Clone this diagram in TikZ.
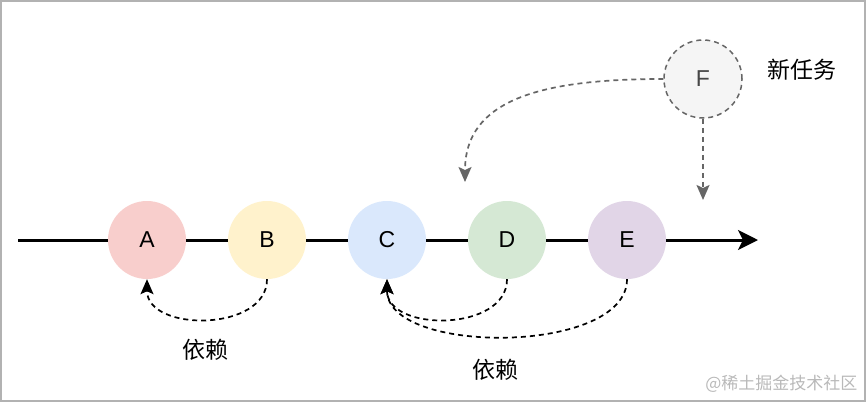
\documentclass[tikz,border=0pt]{standalone}
\usepackage{fontspec}
\setmainfont{Liberation Sans}
\newfontfamily\cjk{Noto Sans CJK SC}
\usetikzlibrary{arrows.meta}

\definecolor{redfill}{HTML}{F8CECC}
\definecolor{yellowfill}{HTML}{FFF2CC}
\definecolor{bluefill}{HTML}{DAE8FC}
\definecolor{greenfill}{HTML}{D5E8D4}
\definecolor{purplefill}{HTML}{E1D5E7}
\definecolor{newfill}{HTML}{F5F5F5}
\definecolor{newline}{HTML}{666666}

\tikzset{
  task/.style={circle, minimum size=78pt, inner sep=0pt, font=\fontsize{23}{23}\selectfont},
  chain/.style={line width=3pt},
  dep/.style={dashed, line width=1.7pt, dash pattern=on 5pt off 4pt, -{Stealth[length=15pt,width=13pt,inset=3pt]}},
  newdep/.style={dep, newline},
  cjklabel/.style={font=\cjk\fontsize{23}{23}\selectfont}
}

\begin{document}
\begin{tikzpicture}[x=1pt, y=-1pt]
	\useasboundingbox (0,0) rectangle (866,402);
	\draw[gray!60, line width=2pt] (1,1) rectangle (865,401);
	
	\coordinate (start) at (18,240);
	\coordinate (stop) at (758,240);
	
	\node[task, fill=redfill] (a) at (147,240) {A};
	\node[task, fill=yellowfill] (b) at (267,240) {B};
	\node[task, fill=bluefill] (c) at (387,240) {C};
	\node[task, fill=greenfill] (d) at (507,240) {D};
	\node[task, fill=purplefill] (e) at (627,240) {E};
	\node[task, fill=newfill, draw=newline, dashed, line width=1.5pt, dash pattern=on 5pt off 4pt, text=newline!70!black] (f) at (703,79) {F};
	
	\draw[chain] (start) -- (a);
	\draw[chain] (a) -- (b);
	\draw[chain] (b) -- (c);
	\draw[chain] (c) -- (d);
	\draw[chain] (d) -- (e);
	\draw[chain, -{Stealth[length=20pt,width=20pt,inset=5pt]}] (e) -- (stop);
	
	% dependencies
	\draw[dep] (b.south) .. controls ++(0,53) and ++(0,53) .. (a.south);
	\draw[dep] (d.south) .. controls ++(0,53) and ++(0,53) .. (c.south);
	\draw[dep] (e.south) .. controls ++(0,76) and ++(0,76) .. (c.south);
	\node[cjklabel] (dep1) at (205,350) {依赖};
	\node[cjklabel] (dep2) at (495,370) {依赖};
	
	% new task
	\coordinate (fleft) at (465,182);
	\coordinate (fdown) at (703,200);
	\draw[newdep] (f.west) .. controls (540,79) and (465,100) .. (fleft);
	\draw[newdep] (f.south) -- (fdown);
	\node[cjklabel, anchor=west] (newtask) at (764,70) {新任务};
	
	\node[font=\cjk\fontsize{17}{17}\selectfont, text=gray!55, anchor=east] (mark) at (861,384) {@稀土掘金技术社区};
\end{tikzpicture}
\end{document}
